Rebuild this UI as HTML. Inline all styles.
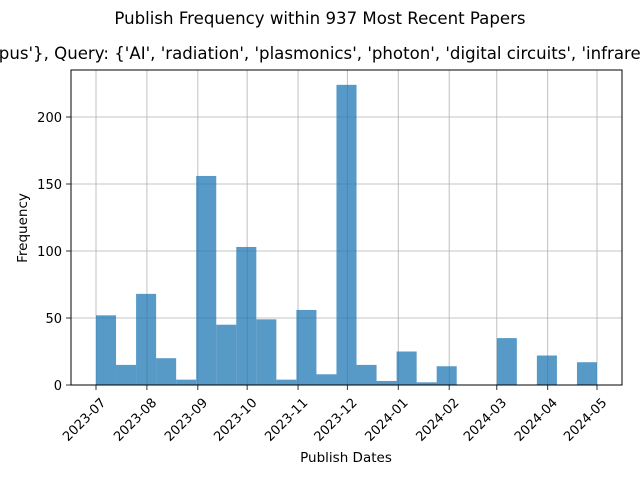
<!DOCTYPE html>
<html><head><meta charset="utf-8"><style>
body{margin:0;background:#fff}
svg{display:block;font-family:"DejaVu Sans","Liberation Sans",sans-serif}
</style></head><body>
<svg id="chart" width="640" height="480" viewBox="0 0 640 480">
<rect width="640" height="480" fill="#fff"/>
<text x="320" y="24" text-anchor="middle" font-size="16.6">Publish Frequency within 937 Most Recent Papers</text>
<text x="-114" y="59" font-size="16.6">Source: {'Scopus'}, Query: {'AI', 'radiation', 'plasmonics', 'photon', 'digital circuits', 'infrared'}</text>
<g id="grid"></g>
<g id="bars"></g>
<rect x="71" y="70" width="551" height="315" fill="none" stroke="#000" stroke-width="1"/>
<g id="xticks"></g>
<g id="yticks"></g>
<text x="346" y="462" text-anchor="middle" font-size="13.5">Publish Dates</text>
<text transform="translate(27,228) rotate(-90)" text-anchor="middle" font-size="13.5">Frequency</text>
</svg>
<script>
const binCounts=[52,15,68,20,4,156,45,103,49,4,56,8,224,15,3,25,2,14,0,0,35,0,22,0,17];
const binStart="2023-07-01";
const binEnd="2024-05-01";
const xTickLabels=["2023-07","2023-08","2023-09","2023-10","2023-11","2023-12","2024-01","2024-02","2024-03","2024-04","2024-05"];
const yTickValues=[0,50,100,150,200];

const NS="http://www.w3.org/2000/svg";
const t0=Date.parse(binStart), t1=Date.parse(binEnd);
const X0=96, X1=597;
function xScale(t){return X0+(t-t0)/(t1-t0)*(X1-X0);}
function yScale(v){return 385-v*1.34;}
function mk(tag,attrs,parent){const e=document.createElementNS(NS,tag);for(const k in attrs)e.setAttribute(k,attrs[k]);parent.appendChild(e);return e;}
const grid=document.getElementById('grid'),bars=document.getElementById('bars'),xt=document.getElementById('xticks'),yt=document.getElementById('yticks');
xTickLabels.forEach(l=>{
  const x=xScale(Date.parse(l+"-01"));
  const g=mk('line',{x1:x,x2:x,y1:70,y2:385,stroke:'#b0b0b0','stroke-width':0.8},grid);
  
  
  const tk=mk('line',{x1:x,x2:x,y1:385,y2:390,stroke:'#000','stroke-width':0.8},xt);
  
  
  const tx=mk('text',{x:0,y:0,'font-size':13,'text-anchor':'end',transform:`translate(${x+4},${397}) rotate(-45)`,dy:'0.7em'},xt);
  tx.textContent=l;
  
  
});
yTickValues.forEach(v=>{
  const y=yScale(v);
  const g=mk('line',{x1:71,x2:622,y1:y,y2:y,stroke:'#b0b0b0','stroke-width':0.8},grid);
  
  
  const tk=mk('line',{x1:66,x2:71,y1:y,y2:y,stroke:'#000','stroke-width':0.8},yt);
  
  
  const tx=mk('text',{x:62,y:y+5,'font-size':13,'text-anchor':'end'},yt);
  tx.textContent=v;
  
  
});
const n=binCounts.length, w=(t1-t0)/n;
binCounts.forEach((c,i)=>{
  const xa=xScale(t0+i*w), xb=xScale(t0+(i+1)*w);
  const r=mk('rect',{x:xa,y:yScale(c),width:xb-xa,height:385-yScale(c),fill:'#1f77b4','fill-opacity':0.75},bars);
  
  
});
</script>
</body></html>
